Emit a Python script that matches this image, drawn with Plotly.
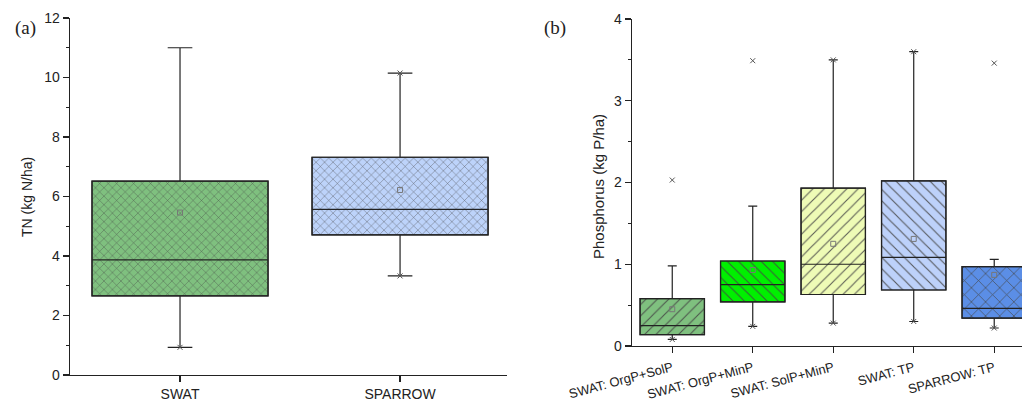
import plotly.graph_objects as go

# ---- Panel (a): TN ----
cats_a = ["SWAT", "SPARROW"]
tn_q1 = [2.66, 4.71]
tn_median = [3.87, 5.57]
tn_q3 = [6.52, 7.32]
tn_low = [0.93, 3.33]
tn_high = [11.0, 10.15]
tn_mean = [5.46, 6.22]
tn_ext = [0.93, 10.15, 3.33]
tn_ext_cat = ["SWAT", "SPARROW", "SPARROW"]
colors_a = ["#7fc07f", "#bdd3fa"]
patterns_a = ["x", "x"]

# ---- Panel (b): Phosphorus ----
cats_b = ["SWAT: OrgP+SolP", "SWAT: OrgP+MinP", "SWAT: SolP+MinP", "SWAT: TP", "SPARROW: TP"]
p_q1 = [0.14, 0.54, 0.63, 0.685, 0.34]
p_median = [0.25, 0.75, 1.00, 1.085, 0.46]
p_q3 = [0.58, 1.04, 1.93, 2.02, 0.97]
p_low = [0.08, 0.24, 0.28, 0.30, 0.22]
p_high = [0.98, 1.71, 3.50, 3.60, 1.06]
p_mean = [0.45, 0.93, 1.25, 1.31, 0.87]
p_ext = [2.03, 0.08, 3.49, 0.24, 3.50, 0.28, 3.60, 0.30, 3.46, 0.22]
p_ext_cat = [cats_b[0], cats_b[0], cats_b[1], cats_b[1], cats_b[2], cats_b[2],
             cats_b[3], cats_b[3], cats_b[4], cats_b[4]]
colors_b = ["#7fc07f", "#00f000", "#eefbb6", "#bdd1fa", "#5b8ee6"]
patterns_b = ["/", "\\", "/", "\\", "x"]
pattern_sizes_b = [8, 8, 8, 8, 10]

FONT = "Liberation Sans, Arial, sans-serif"
SERIF = "Liberation Serif, Times New Roman, serif"
BOXW = 0.8

fig = go.Figure()

def add_panel(cats, q1, med, q3, low, high, mean, ext, ext_cat, colors, pats, psize, xa, ya):
    fig.add_trace(go.Bar(
        x=cats, y=[b - a for a, b in zip(q1, q3)], base=q1, width=BOXW,
        marker=dict(color=colors, line=dict(color="#222", width=1.2),
                    pattern=dict(shape=pats, fillmode="overlay", bgcolor=colors,
                                 fgcolor="#1a1a1a", fgopacity=0.85,
                                 size=psize, solidity=0.14)),
        xaxis=xa, yaxis=ya, showlegend=False, hoverinfo="skip"))
    fig.add_trace(go.Box(
        x=cats, q1=q1, median=med, q3=q3, lowerfence=low, upperfence=high,
        width=BOXW, whiskerwidth=0.14, fillcolor="rgba(0,0,0,0)",
        line=dict(color="#222", width=1.2), boxpoints=False,
        xaxis=xa, yaxis=ya, showlegend=False, hoverinfo="skip"))
    fig.add_trace(go.Scatter(
        x=cats, y=mean, mode="markers",
        marker=dict(symbol="square-open", size=5, color="#777", line=dict(width=1)),
        xaxis=xa, yaxis=ya, showlegend=False, hoverinfo="skip"))
    fig.add_trace(go.Scatter(
        x=ext_cat, y=ext, mode="markers",
        marker=dict(symbol="x-thin-open", size=5, color="#555", line=dict(width=1, color="#555")),
        xaxis=xa, yaxis=ya, showlegend=False, hoverinfo="skip"))

add_panel(cats_a, tn_q1, tn_median, tn_q3, tn_low, tn_high, tn_mean, tn_ext, tn_ext_cat,
          colors_a, patterns_a, [6, 6], "x", "y")
add_panel(cats_b, p_q1, p_median, p_q3, p_low, p_high, p_mean, p_ext, p_ext_cat,
          colors_b, patterns_b, pattern_sizes_b, "x2", "y2")

W, H = 1022, 403
axis_common = dict(showline=True, linecolor="#222", linewidth=1.3, ticks="outside",
                   ticklen=6, tickcolor="#222", tickwidth=1.2, showgrid=False,
                   zeroline=False, automargin=False)
tf = dict(family=FONT, size=14, color="#222")

fig.update_layout(
    template="none",
    width=W, height=H, margin=dict(l=0, r=0, t=0, b=0, autoexpand=False),
    paper_bgcolor="white", plot_bgcolor="white",
    barmode="overlay", boxmode="overlay",
    xaxis=dict(domain=[70 / W, 507 / W], range=[-0.5, 1.486], anchor="y",
               tickfont=tf, **axis_common),
    yaxis=dict(domain=[(H - 375) / H, (H - 18) / H], range=[0, 12], dtick=2,
               anchor="x", minor=dict(dtick=1, ticks="outside", ticklen=3, tickcolor="#222"),
               tickfont=tf, **axis_common),
    xaxis2=dict(domain=[632 / W, 1.0], range=[-0.5, 4.345], anchor="y2",
                tickangle=-15, ticklabelstandoff=2,
                tickfont=dict(family=FONT, size=13, color="#222"),
                **axis_common),
    yaxis2=dict(domain=[(H - 346) / H, (H - 19) / H], range=[0, 4], dtick=1,
                anchor="x2", minor=dict(dtick=0.5, ticks="outside", ticklen=3, tickcolor="#222"),
                tickfont=tf, **axis_common),
    annotations=[
        dict(text="TN (kg N/ha)", x=27 / W, y=(H - 197) / H, xref="paper", yref="paper",
             xanchor="center", yanchor="middle",
             textangle=-90, showarrow=False, font=dict(family=FONT, size=14, color="#222")),
        dict(text="Phosphorus (kg P/ha)", x=598 / W, y=(H - 187) / H, xref="paper", yref="paper",
             xanchor="center", yanchor="middle",
             textangle=-90, showarrow=False, font=dict(family=FONT, size=15, color="#222")),
        dict(text="(a)", x=25 / W, y=(H - 28) / H, xref="paper", yref="paper",
             xanchor="center", yanchor="middle",
             showarrow=False, font=dict(family=SERIF, size=19, color="#222")),
        dict(text="(b)", x=555 / W, y=(H - 28) / H, xref="paper", yref="paper",
             xanchor="center", yanchor="middle",
             showarrow=False, font=dict(family=SERIF, size=19, color="#222")),
    ],
)

fig.write_html("out.html", config={"displayModeBar": False, "staticPlot": True},
               post_script="document.body.style.margin='0';document.body.style.overflow='hidden';")
